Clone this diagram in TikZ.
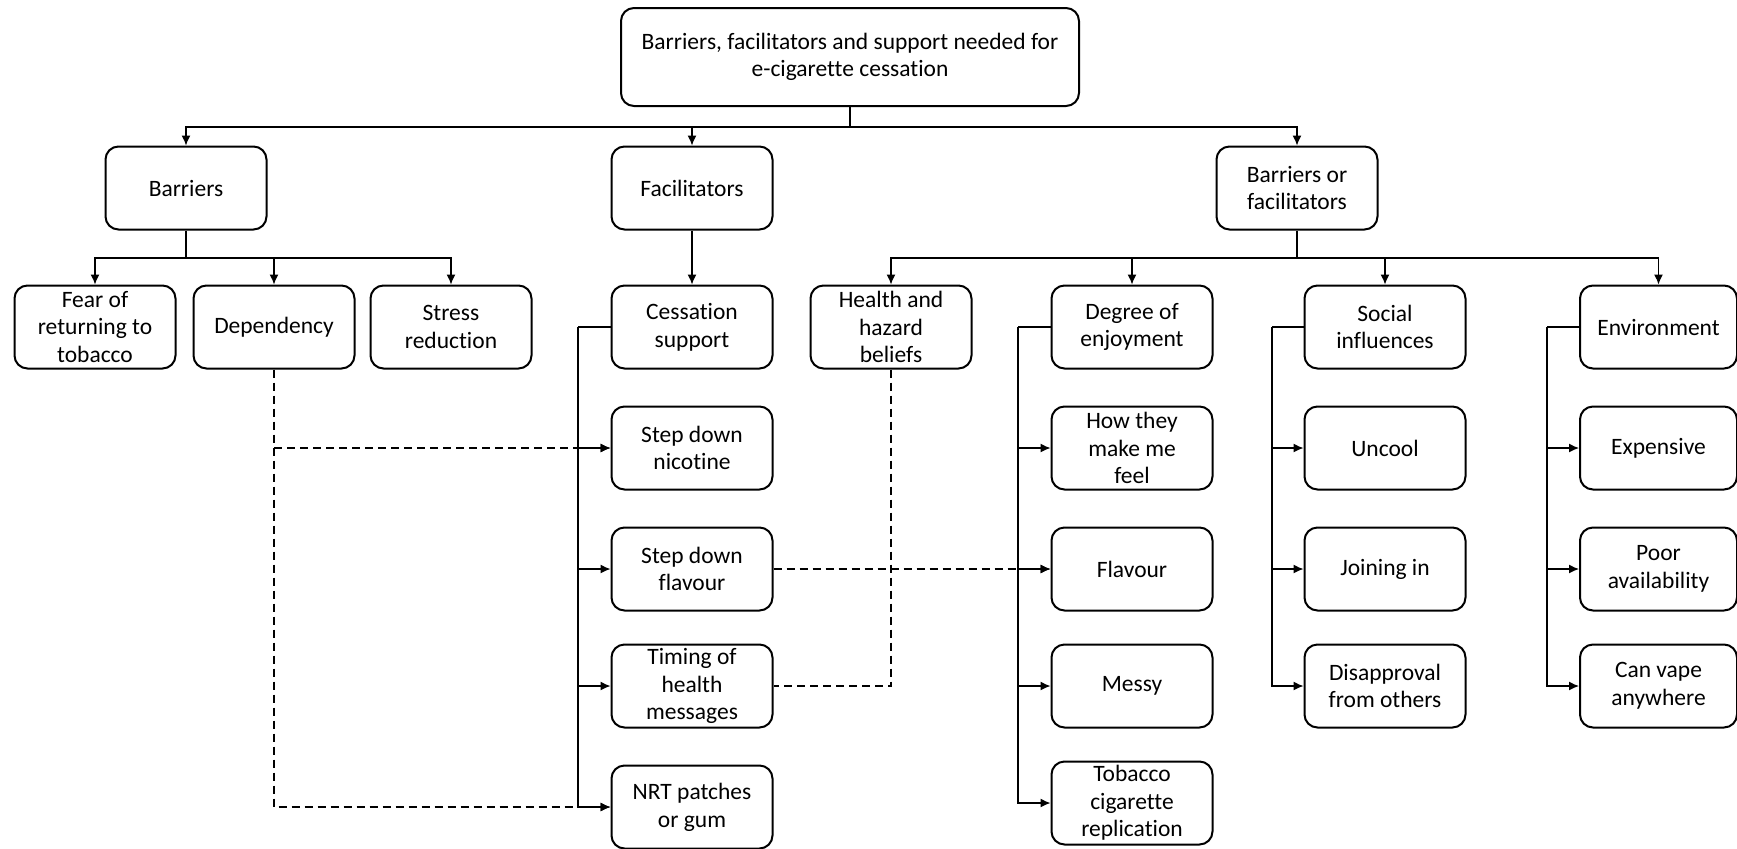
\documentclass[tikz,border=0pt]{standalone}
\usepackage{fontspec}
\setmainfont{Carlito}[Ligatures=NoCommon]
\usetikzlibrary{arrows.meta}
\begin{document}
\begin{tikzpicture}[x=0.5pt,y=-0.5pt,
  box/.style={draw, line width=1pt, rounded corners=6.5pt, minimum width=80.5pt, minimum height=41.5pt,
    inner sep=0pt, align=center, font=\fontsize{11.75}{13.85}\selectfont},
  conn/.style={line width=0.65pt},
  arr/.style={conn, -{Latex[length=5pt,width=4.5pt]}},
  dasharr/.style={line width=0.8pt, dash pattern=on 4pt off 2.5pt, -{Latex[length=5pt,width=4.5pt]}},
  dashln/.style={line width=0.8pt, dash pattern=on 4pt off 2.5pt}]
\useasboundingbox (0,0) rectangle (1737,848);
% root
\node[box, minimum width=229pt, minimum height=49pt] (root) at (850,57) {Barriers, facilitators and support needed for\\e-cigarette cessation};
% level 1
\node[box] (bar) at (186,188) {Barriers};
\node[box] (fac) at (692,188) {Facilitators};
\node[box] (bof) at (1297,188) {Barriers or\\facilitators};
% level 2
\node[box] (fear) at (95,327) {Fear of\\returning to\\tobacco};
\node[box] (dep) at (274,327) {Dependency};
\node[box] (stress) at (451,327) {Stress\\reduction};
\node[box] (cess) at (692,327) {Cessation\\support};
\node[box] (health) at (891,327) {Health and\\hazard\\beliefs};
\node[box] (deg) at (1132,327) {Degree of\\enjoyment};
\node[box] (soc) at (1385,327) {Social\\influences};
\node[box, minimum width=78.5pt] (env) at (1658.5,327) {Environment};
% cessation column
\node[box] (sdn) at (692,448) {Step down\\nicotine};
\node[box] (sdf) at (692,569) {Step down\\flavour};
\node[box] (tim) at (692,686) {Timing of\\health\\messages};
\node[box] (nrt) at (692,807) {NRT patches\\or gum};
% degree column
\node[box] (how) at (1132,448) {How they\\make me\\feel};
\node[box] (flav) at (1132,569) {Flavour};
\node[box] (messy) at (1132,686) {Messy};
\node[box] (tob) at (1132,803) {Tobacco\\cigarette\\replication};
% social column
\node[box] (uncool) at (1385,448) {Uncool};
\node[box] (join) at (1385,569) {Joining in};
\node[box] (disap) at (1385,686) {Disapproval\\from others};
% environment column
\node[box, minimum width=78.5pt] (exp) at (1658.5,448) {Expensive};
\node[box, minimum width=78.5pt] (poor) at (1658.5,569) {Poor\\availability};
\node[box, minimum width=78.5pt] (can) at (1658.5,686) {Can vape\\anywhere};
% junctions
\coordinate (j0) at (850,127);
\coordinate (j1) at (186,258);
\coordinate (j2) at (1297,258);
\coordinate (tc) at (578,327);
\coordinate (td) at (1018,327);
\coordinate (ts) at (1272,327);
\coordinate (te) at (1547,327);
% tree connectors
\draw[conn] (root.south) -- (j0);
\draw[arr] (j0) -| (bar.north);
\draw[arr] (j0) -| (fac.north);
\draw[arr] (j0) -| (bof.north);
\draw[conn] (bar.south) -- (j1);
\draw[arr] (j1) -| (fear.north);
\draw[arr] (j1) -| (dep.north);
\draw[arr] (j1) -| (stress.north);
\draw[arr] (fac.south) -- (cess.north);
\draw[conn] (bof.south) -- (j2);
\draw[arr] (j2) -| (health.north);
\draw[arr] (j2) -| (deg.north);
\draw[arr] (j2) -| (soc.north);
\draw[arr] (j2) -| (env.north);
% trunks
\draw[conn] (cess.west) -- (tc);
\draw[arr] (tc) |- (sdn.west);
\draw[arr] (tc) |- (sdf.west);
\draw[arr] (tc) |- (tim.west);
\draw[arr] (tc) |- (nrt.west);
\draw[conn] (deg.west) -- (td);
\draw[arr] (td) |- (how.west);
\draw[arr] (td) |- (flav.west);
\draw[arr] (td) |- (messy.west);
\draw[arr] (td) |- (tob.west);
\draw[conn] (soc.west) -- (ts);
\draw[arr] (ts) |- (uncool.west);
\draw[arr] (ts) |- (join.west);
\draw[arr] (ts) |- (disap.west);
\draw[conn] (env.west) -- (te);
\draw[arr] (te) |- (exp.west);
\draw[arr] (te) |- (poor.west);
\draw[arr] (te) |- (can.west);
% dashed links
\draw[dasharr] (dep.south) |- (nrt.west);
\draw[dasharr] (dep.south |- sdn.west) -- (sdn.west);
\draw[dasharr] (sdf.east) -- (flav.west);
\draw[dashln] (health.south) |- (tim.east);
\end{tikzpicture}
\end{document}
